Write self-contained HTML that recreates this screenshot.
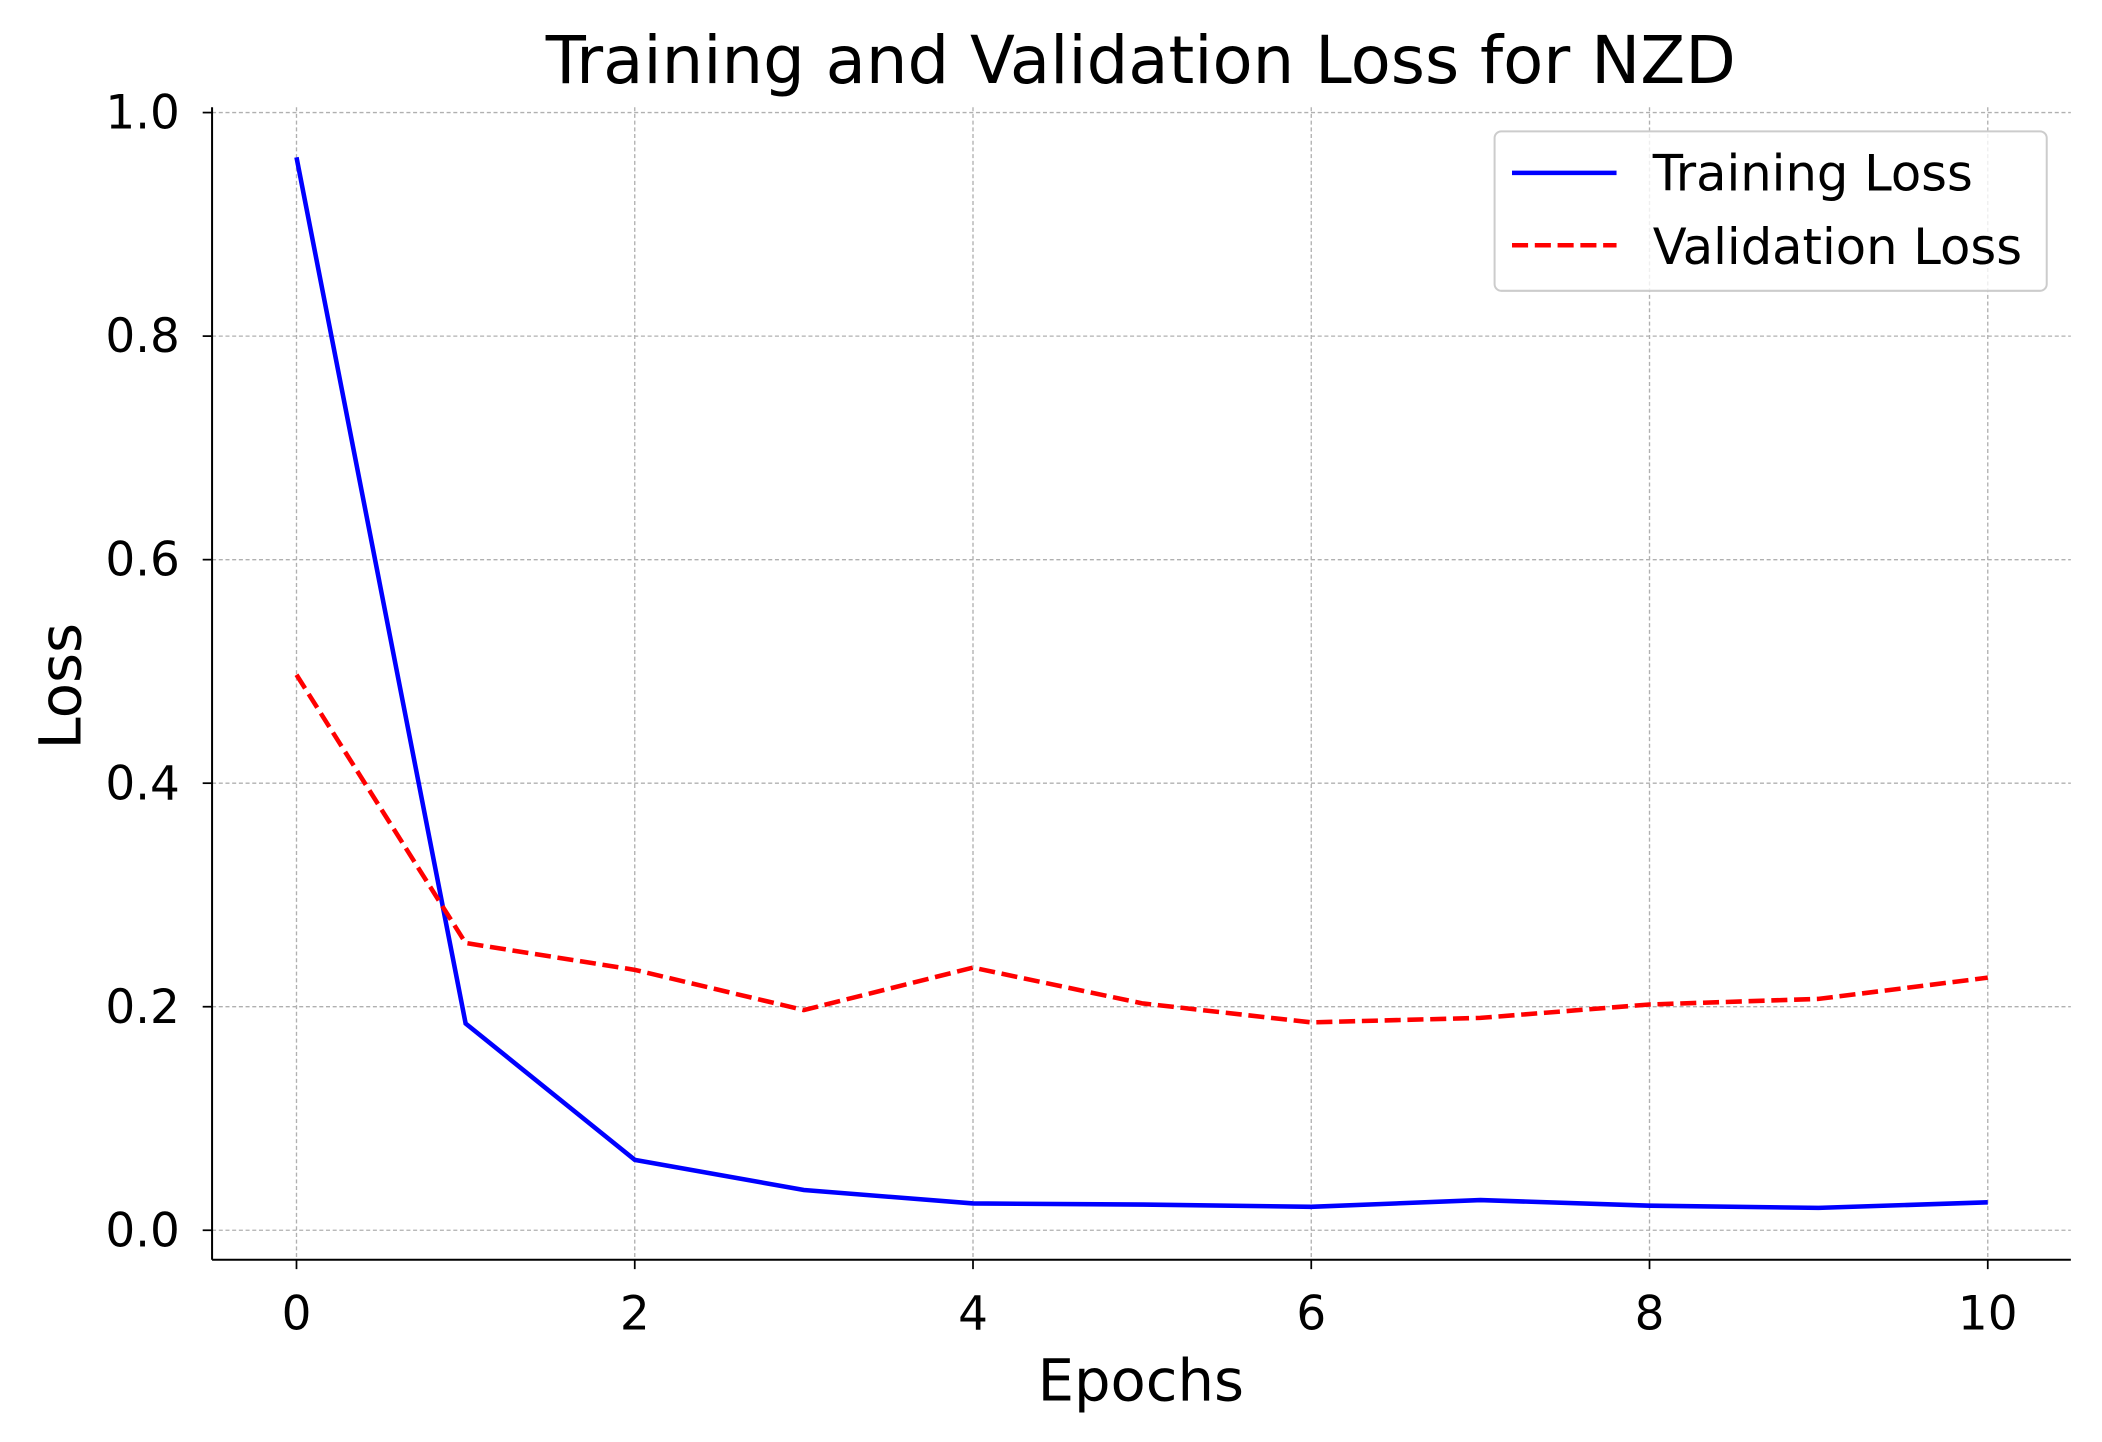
<!DOCTYPE html>
<html><head><meta charset="utf-8"><style>html,body{margin:0;padding:0;background:#fff}svg{display:block}text{font-family:"DejaVu Sans","Liberation Sans",sans-serif;fill:#000}</style></head>
<body>
<svg id="chart" width="2102" height="1442" viewBox="0 0 1568 1076" xmlns="http://www.w3.org/2000/svg">
<rect width="1568" height="1076" fill="#fff"/>
<g id="grid"></g>
<g id="axes"></g>
<g id="series"></g>
<text x="851" y="62" font-size="49" text-anchor="middle">Training and Validation Loss for NZD</text>
<text x="851" y="1045" font-size="43" text-anchor="middle">Epochs</text>
<text transform="translate(60,512) rotate(-90)" font-size="43" text-anchor="middle">Loss</text>
<g>
<rect x="1115" y="98" width="412" height="119" rx="5" fill="#fff" fill-opacity="0.8" stroke="#ccc" stroke-width="1.5"/>
<line x1="1128" y1="129" x2="1206" y2="129" stroke="#0000ff" stroke-width="3.4"/>
<text x="1233" y="142" font-size="37">Training Loss</text>
<line x1="1128" y1="183" x2="1206" y2="183" stroke="#ff0000" stroke-width="3.4" stroke-dasharray="12,5"/>
<text x="1233" y="197" font-size="37">Validation Loss</text>
</g>
</svg>
<script>
const epochs=[0,1,2,3,4,5,6,7,8,9,10];
const trainingLoss=[0.96,0.185,0.063,0.036,0.024,0.023,0.021,0.027,0.022,0.020,0.025];
const validationLoss=[0.497,0.257,0.233,0.197,0.235,0.203,0.186,0.190,0.202,0.207,0.226];
const xTicks=[0,2,4,6,8,10];
const yTicks=[0.0,0.2,0.4,0.6,0.8,1.0];
const NS="http://www.w3.org/2000/svg";
const L=158,R=1545,T=80,B=940;
const xs=v=>221+v*126.2;
const ys=v=>918-v*834;
function mk(tag,attrs,parent){const e=document.createElementNS(NS,tag);for(const k in attrs)e.setAttribute(k,attrs[k]);parent.appendChild(e);return e;}
const grid=document.getElementById('grid'),axes=document.getElementById('axes'),series=document.getElementById('series');
xTicks.forEach(t=>{
 const g=mk('line',{x1:xs(t),x2:xs(t),y1:T,y2:B,stroke:'#b0b0b0','stroke-width':1,'stroke-dasharray':'3,2'},grid);
 
 
 const tk=mk('line',{x1:xs(t),x2:xs(t),y1:B,y2:B+7,stroke:'#000','stroke-width':1.3},axes);
 
 
 const tx=mk('text',{x:xs(t),y:B+52,'font-size':35,'text-anchor':'middle'},axes);
 tx.textContent=t;
 
 
});
yTicks.forEach(t=>{
 const g=mk('line',{x1:L,x2:R,y1:ys(t),y2:ys(t),stroke:'#b0b0b0','stroke-width':1,'stroke-dasharray':'3,2'},grid);
 
 
 const tk=mk('line',{x1:L-7,x2:L,y1:ys(t),y2:ys(t),stroke:'#000','stroke-width':1.3},axes);
 
 
 const tx=mk('text',{x:L-24,y:ys(t)+12,'font-size':35,'text-anchor':'end'},axes);
 tx.textContent=t.toFixed(1);
 
 
});
const ls=mk('line',{x1:L,x2:L,y1:T,y2:B,stroke:'#000','stroke-width':1.5},axes);


const bs=mk('line',{x1:L,x2:R,y1:B,y2:B,stroke:'#000','stroke-width':1.5},axes);


const pts=a=>a.map((v,i)=>xs(epochs[i])+','+ys(v)).join(' ');
const tl=mk('polyline',{points:pts(trainingLoss),fill:'none',stroke:'#0000ff','stroke-width':3.4},series);


const vl=mk('polyline',{points:pts(validationLoss),fill:'none',stroke:'#ff0000','stroke-width':3.4,'stroke-dasharray':'12,5'},series);


</script>
</body></html>
